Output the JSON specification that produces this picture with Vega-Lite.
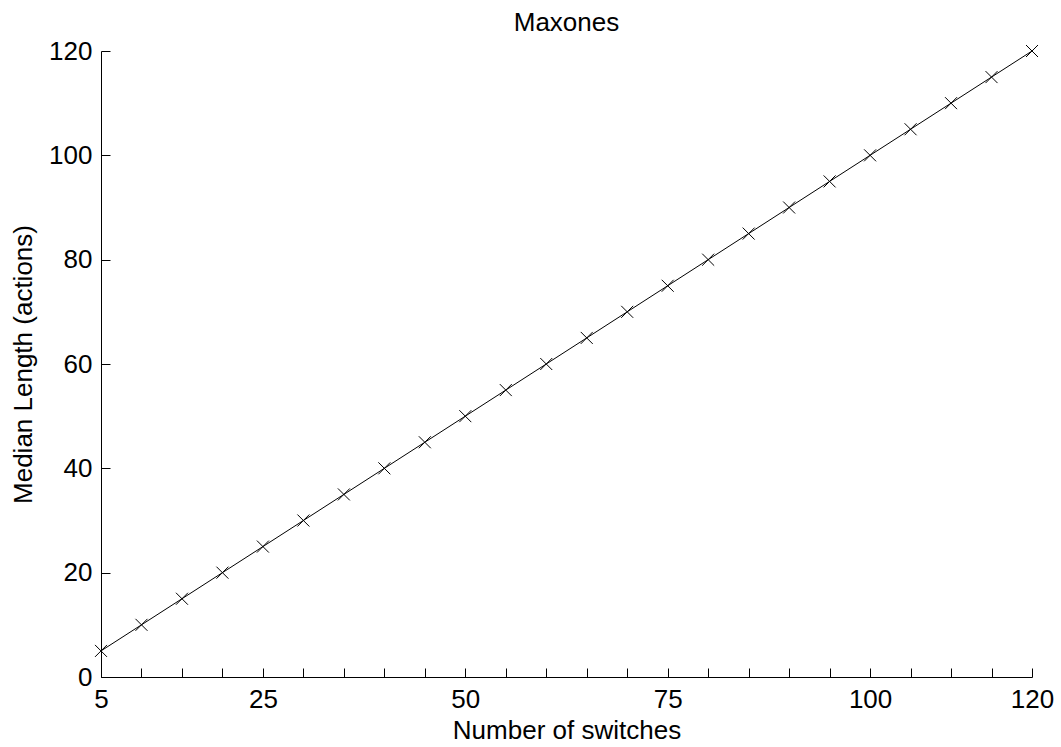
{
  "$schema": "https://vega.github.io/schema/vega-lite/v6.json",
  "autosize": {"type": "none"},
  "width": 931,
  "height": 626,
  "padding": {"left": 101, "top": 51, "right": 29, "bottom": 70},
  "background": "white",
  "config": {
    "view": {"stroke": null},
    "font": "Liberation Sans",
    "axis": {
      "grid": false,
      "domainColor": "black",
      "tickColor": "black",
      "labelColor": "black",
      "titleColor": "black",
      "labelFontSize": 26,
      "titleFontSize": 26,
      "titleFontWeight": "normal",
      "labelFont": "Liberation Sans",
      "titleFont": "Liberation Sans",
      "tickSize": -9,
      "labelOverlap": false,
      "labelFlush": false
    },
    "title": {"font": "Liberation Sans", "fontSize": 26, "fontWeight": "normal", "color": "black"}
  },
  "title": {"text": "Maxones", "offset": 2, "anchor": "middle"},
  "data": {
    "values": [
      {"switches": 5, "length": 5},
      {"switches": 10, "length": 10},
      {"switches": 15, "length": 15},
      {"switches": 20, "length": 20},
      {"switches": 25, "length": 25},
      {"switches": 30, "length": 30},
      {"switches": 35, "length": 35},
      {"switches": 40, "length": 40},
      {"switches": 45, "length": 45},
      {"switches": 50, "length": 50},
      {"switches": 55, "length": 55},
      {"switches": 60, "length": 60},
      {"switches": 65, "length": 65},
      {"switches": 70, "length": 70},
      {"switches": 75, "length": 75},
      {"switches": 80, "length": 80},
      {"switches": 85, "length": 85},
      {"switches": 90, "length": 90},
      {"switches": 95, "length": 95},
      {"switches": 100, "length": 100},
      {"switches": 105, "length": 105},
      {"switches": 110, "length": 110},
      {"switches": 115, "length": 115},
      {"switches": 120, "length": 120}
    ]
  },
  "encoding": {
    "x": {
      "field": "switches",
      "type": "quantitative",
      "scale": {"domain": [5, 120], "nice": false, "zero": false},
      "axis": {
        "title": "Number of switches",
        "values": [5, 10, 15, 20, 25, 30, 35, 40, 45, 50, 55, 60, 65, 70, 75, 80, 85, 90, 95, 100, 105, 110, 115, 120],
        "labelExpr": "indexof([5, 25, 50, 75, 100, 120], datum.value) >= 0 ? datum.label : ''",
        "labelPadding": 18,
        "titlePadding": 5
      }
    },
    "y": {
      "field": "length",
      "type": "quantitative",
      "scale": {"domain": [0, 120], "nice": false},
      "axis": {
        "title": "Median Length (actions)",
        "values": [0, 20, 40, 60, 80, 100, 120],
        "labelPadding": 18,
        "titlePadding": 12
      }
    }
  },
  "layer": [
    {"mark": {"type": "line", "color": "black", "strokeWidth": 1}},
    {
      "mark": {
        "type": "point",
        "shape": "M-1,-1L1,1M-1,1L1,-1",
        "size": 144,
        "filled": false,
        "stroke": "black",
        "strokeWidth": 1,
        "opacity": 1
      }
    }
  ]
}
